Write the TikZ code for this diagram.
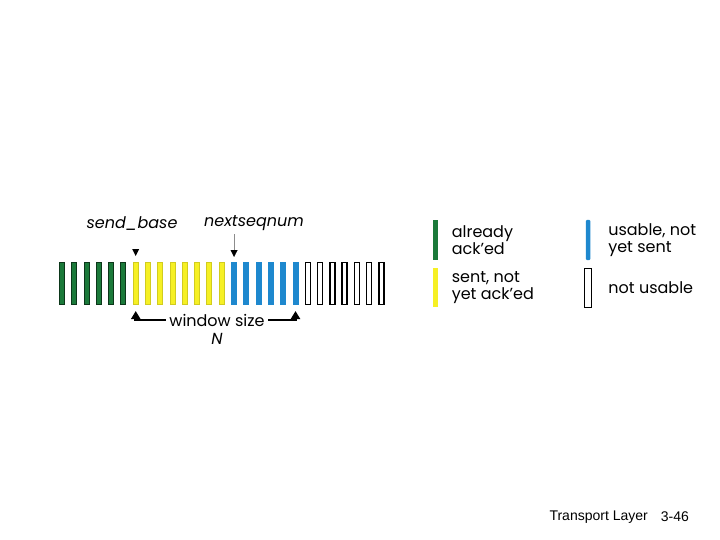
\documentclass[tikz,border=0pt]{standalone}
\usepackage{fontspec}
\setmainfont{Poppins}
\newfontfamily\footfont{Liberation Sans}
\usetikzlibrary{arrows.meta,positioning,calc}
\definecolor{ackgreen}{RGB}{27,122,58}
\definecolor{sentyellow}{RGB}{246,240,36}
\definecolor{usablue}{RGB}{30,136,206}

\begin{document}
\begin{tikzpicture}
[x=1pt,y=-1pt,
bar/.style={shape=rectangle,inner sep=0pt,minimum width=5pt,minimum height=42pt,line width=1pt},
greenbar/.style={bar,fill=ackgreen,draw=ackgreen!45!black},
yellowbar/.style={bar,fill=sentyellow,draw=sentyellow!85!black},
bluebar/.style={bar,fill=usablue,draw=usablue},
whitebar/.style={bar,fill=white,draw=black,line width=1.4pt},
lbl/.style={font=\fontsize{16}{17}\selectfont},
legtext/.style={lbl,align=left,right=10pt of #1},
winarrow/.style={line width=2.5pt,-{Triangle[width=9pt,length=8pt]},shorten >=6pt}]
\useasboundingbox (0,0) rectangle (720,540);
%% the window of sequence numbers
\foreach \i in {1,...,6}
  \node (b\i) [greenbar] at ({62+(\i-1)*12.29},283.5) {};
\foreach \i in {7,...,14}
  \node (b\i) [yellowbar] at ({62+(\i-1)*12.29},283.5) {};
\foreach \i in {15,...,20}
  \node (b\i) [bluebar] at ({62+(\i-1)*12.29},283.5) {};
\foreach \i in {21,...,27}
  \node (b\i) [whitebar] at ({62+(\i-1)*12.29},283.5) {};
%%
\node (sb) [lbl] at (132,224) {\itshape send\_base};
\node (nsn) [lbl] at (254,223) {\itshape nextseqnum};
\coordinate (sbtip) at ($(b7.north)+(0,-6)$);
\fill (sbtip) -- ++(-3.5,-7) -- ++(7,0) -- cycle;
\draw[black!45,-{Triangle[width=7pt,length=7pt,color=black]},shorten >=5pt]
  (nsn.south -| b15.north) -- (b15.north);
%%
\node (ws) [lbl] at (217,320) {window size};
\node (n) [lbl,below=0pt of ws] {\itshape N};
\draw[winarrow] (ws.west) -| (b7.south);
\draw[winarrow] (ws.east) -| (b20.south);
%% legend
\node (lg) [bar,fill=ackgreen,minimum width=4.5pt,minimum height=40pt] at (435.5,240) {};
\node (lgt) [legtext=lg] {already\\ack’ed};
\node (ly) [bar,fill=sentyellow,minimum width=4.5pt,minimum height=39pt] at (435.5,287.5) {};
\node (lyt) [legtext=ly] {sent, not\\yet ack’ed};
\node (lb) [bar,fill=usablue,minimum width=4.5pt,minimum height=40pt,rounded corners=1pt] at (588,240) {};
\node (lbt) [legtext=lb,right=14pt of lb] {usable, not\\yet sent};
\node (lw) [whitebar,minimum width=6.5pt,minimum height=39pt] at (588,288) {};
\node (lwt) [legtext=lw,right=13pt of lw] {not usable};
%% footer
\node (tl) [anchor=west,font=\footfont\fontsize{14}{17}\selectfont] at (546,517) {Transport Layer};
\node (pg) [font=\footfont\fontsize{14}{17}\selectfont,right=6pt of tl] {3-46};
\end{tikzpicture}
\end{document}
